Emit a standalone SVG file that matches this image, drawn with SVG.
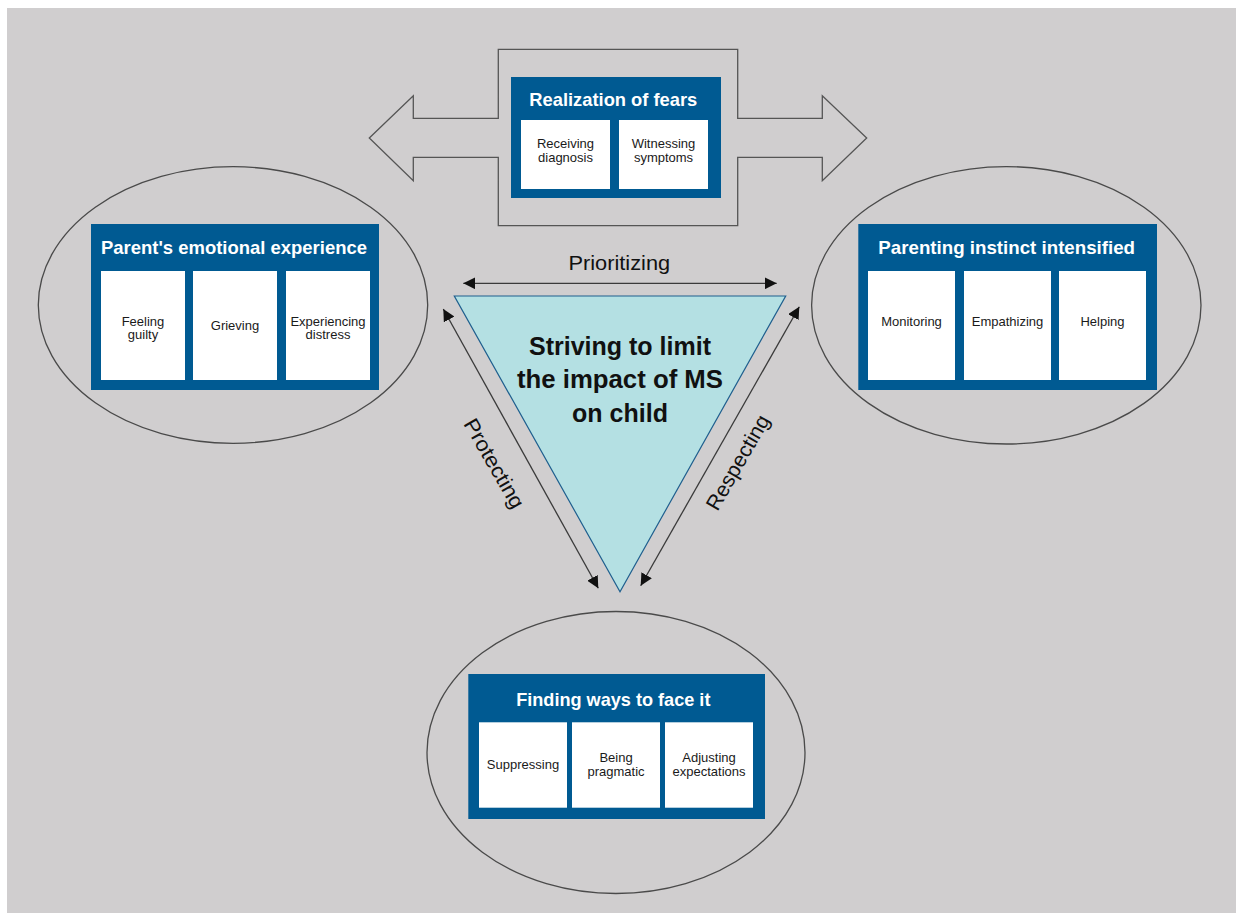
<svg xmlns="http://www.w3.org/2000/svg" width="1236" height="913" viewBox="0 0 1236 913">
  <style>
    .panel { fill: #005a92; }
    .cell { fill: #ffffff; }
    .title { font-family: "Liberation Sans", Arial, sans-serif; font-weight: bold; font-size: 18.5px; fill: #ffffff; text-anchor: middle; }
    .item { font-family: "Liberation Sans", Arial, sans-serif; font-size: 13px; fill: #1a1a1a; text-anchor: middle; }
    .halo { fill: none; stroke: #4a4a4a; stroke-width: 1.3; }
    .link { fill: none; stroke: #3a3a3a; stroke-width: 1.3; marker-start: url(#head); marker-end: url(#head); }
    .label { font-family: "Liberation Sans", Arial, sans-serif; font-size: 21px; fill: #111111; text-anchor: middle; }
    .core { font-family: "Liberation Sans", Arial, sans-serif; font-weight: bold; font-size: 25px; fill: #111111; text-anchor: middle; }
  </style>
  <defs>
    <marker id="head" viewBox="0 0 12 12" refX="12" refY="6" markerWidth="12" markerHeight="12" markerUnits="userSpaceOnUse" orient="auto-start-reverse">
      <path d="M0,0 L12,6 L0,12 Z" fill="#111111"/>
    </marker>
  </defs>

  <!-- page background -->
  <rect x="0" y="0" width="1236" height="913" fill="#ffffff"/>
  <rect x="7" y="8" width="1229" height="905" fill="#d0cecf"/>

  <!-- connectors and their labels -->
  <g id="connectors">
    <path id="fears-arrow" d="M369.3,138 L413.3,95.7 L413.3,118.3 L498.3,118.3 L498.3,49.3 L737.7,49.3 L737.7,118.3 L822.3,118.3 L822.3,95.7 L866.7,138 L822.3,180.7 L822.3,157.3 L737.7,157.3 L737.7,225.7 L498.3,225.7 L498.3,157.3 L413.3,157.3 L413.3,180.7 Z" fill="none" stroke="#555555" stroke-width="1.3" stroke-linejoin="miter"/>
    <line id="prioritizing" class="link" x1="463.3" y1="283.3" x2="776.7" y2="283.3"/>
    <line id="protecting" class="link" x1="443.3" y1="309" x2="598.3" y2="588.3"/>
    <line id="respecting" class="link" x1="799.3" y1="306.7" x2="640.7" y2="585.7"/>
    <text class="label" x="619.3" y="270" textLength="101.7" lengthAdjust="spacingAndGlyphs">Prioritizing</text>
    <text class="label" transform="translate(488,467) rotate(60)" textLength="100" lengthAdjust="spacingAndGlyphs">Protecting</text>
    <text class="label" transform="translate(744,466) rotate(-60)" textLength="106" lengthAdjust="spacingAndGlyphs">Respecting</text>
  </g>

  <!-- centre: striving to limit the impact -->
  <g id="striving">
    <polygon points="454.3,296 785.7,296 620,591.7" fill="#b4e0e3" stroke="#1f5f8e" stroke-width="1.2"/>
    <text class="core" x="620" y="355">Striving to limit</text>
    <text class="core" x="620" y="388.3" textLength="206" lengthAdjust="spacingAndGlyphs">the impact of MS</text>
    <text class="core" x="620" y="422.3">on child</text>
  </g>

  <!-- top: realization of fears -->
  <g id="realization">
    <rect class="panel" x="511" y="77" width="210" height="121"/>
    <text class="title" x="613.3" y="105.7" textLength="168" lengthAdjust="spacingAndGlyphs">Realization of fears</text>
    <rect class="cell" x="521" y="120" width="89" height="69"/>
    <rect class="cell" x="619" y="120" width="89" height="69"/>
    <text class="item" x="565.5" y="148.3">Receiving</text>
    <text class="item" x="565.5" y="161.7">diagnosis</text>
    <text class="item" x="663.5" y="148.3">Witnessing</text>
    <text class="item" x="663.5" y="161.7">symptoms</text>
  </g>

  <!-- left: parent's emotional experience -->
  <g id="emotional">
    <ellipse class="halo" cx="233" cy="305" rx="194.7" ry="138.3"/>
    <rect class="panel" x="91" y="224" width="288" height="166"/>
    <text class="title" x="234" y="254" textLength="266" lengthAdjust="spacingAndGlyphs">Parent's emotional experience</text>
    <rect class="cell" x="101" y="271" width="84" height="109"/>
    <rect class="cell" x="193" y="271" width="84" height="109"/>
    <rect class="cell" x="286" y="271" width="84" height="109"/>
    <text class="item" x="143" y="325.7">Feeling</text>
    <text class="item" x="143" y="339">guilty</text>
    <text class="item" x="235" y="330">Grieving</text>
    <text class="item" x="328" y="325.7">Experiencing</text>
    <text class="item" x="328" y="339">distress</text>
  </g>

  <!-- right: parenting instinct intensified -->
  <g id="instinct">
    <ellipse class="halo" cx="1006.3" cy="305.3" rx="194.7" ry="138.7"/>
    <rect class="panel" x="858.3" y="224" width="298.7" height="166"/>
    <text class="title" x="1006.7" y="254" textLength="256.7" lengthAdjust="spacingAndGlyphs">Parenting instinct intensified</text>
    <rect class="cell" x="868" y="271" width="87" height="109"/>
    <rect class="cell" x="964" y="271" width="87" height="109"/>
    <rect class="cell" x="1059" y="271" width="87" height="109"/>
    <text class="item" x="911.5" y="325.7">Monitoring</text>
    <text class="item" x="1007.5" y="325.7">Empathizing</text>
    <text class="item" x="1102.5" y="325.7">Helping</text>
  </g>

  <!-- bottom: finding ways to face it -->
  <g id="facing">
    <ellipse class="halo" cx="616" cy="752.5" rx="189" ry="141"/>
    <rect class="panel" x="468.3" y="674" width="296.7" height="145"/>
    <text class="title" x="613.3" y="706" textLength="194.3" lengthAdjust="spacingAndGlyphs">Finding ways to face it</text>
    <rect class="cell" x="479" y="722.3" width="88" height="85.4"/>
    <rect class="cell" x="572" y="722.3" width="88" height="85.4"/>
    <rect class="cell" x="665" y="722.3" width="88" height="85.4"/>
    <text class="item" x="523" y="769.3">Suppressing</text>
    <text class="item" x="616" y="762.3">Being</text>
    <text class="item" x="616" y="775.7">pragmatic</text>
    <text class="item" x="709" y="762.3">Adjusting</text>
    <text class="item" x="709" y="775.7">expectations</text>
  </g>
</svg>
